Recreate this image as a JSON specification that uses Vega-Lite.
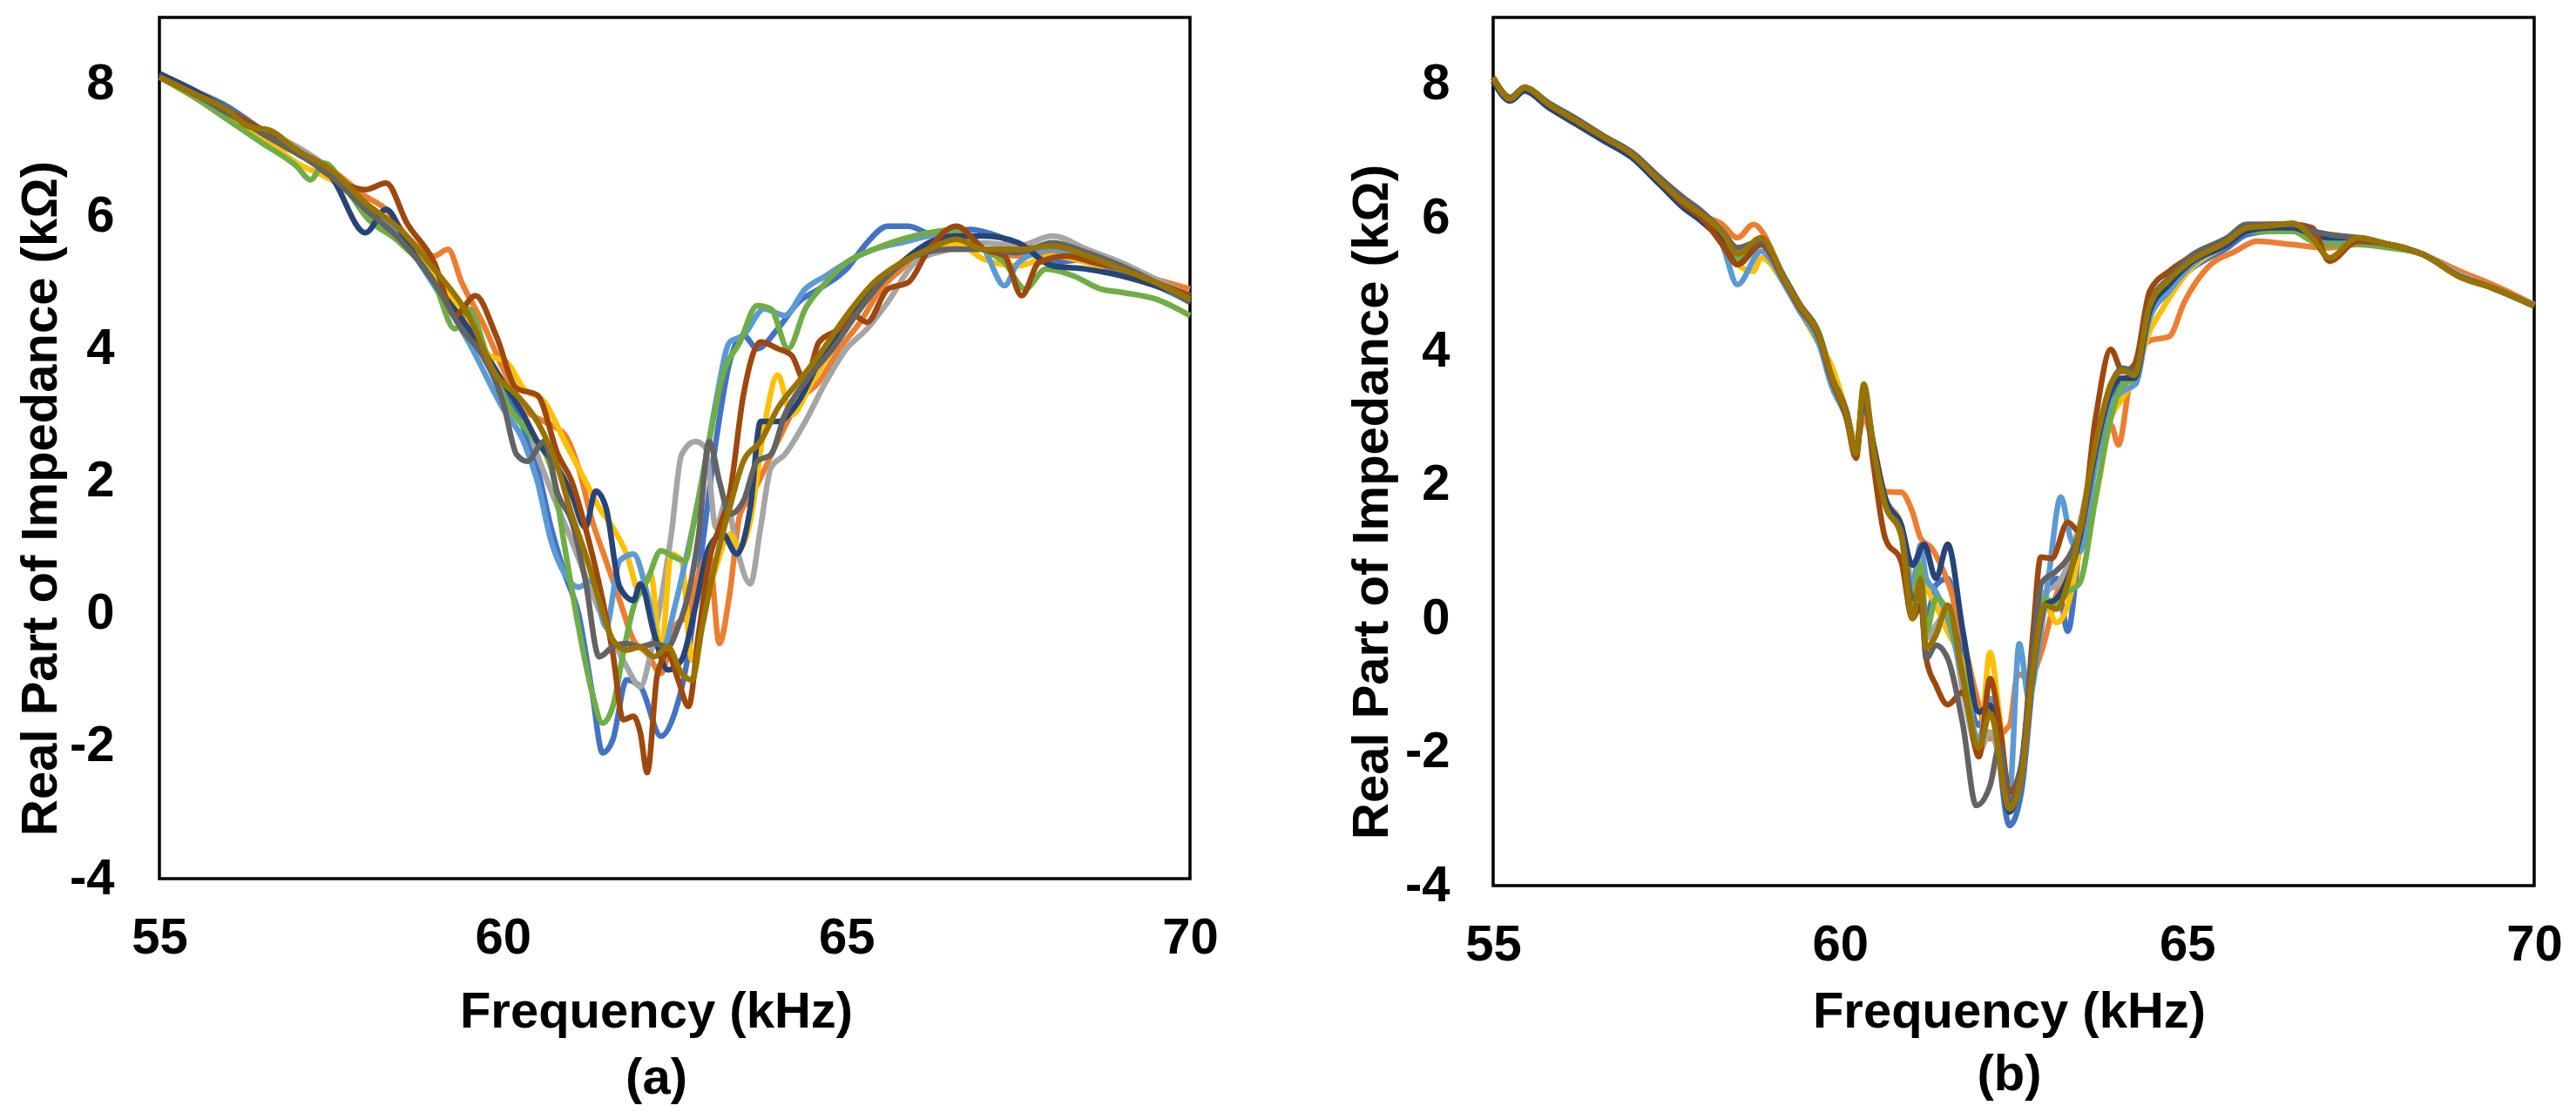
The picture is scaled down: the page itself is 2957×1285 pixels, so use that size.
{
  "$schema": "https://vega.github.io/schema/vega-lite/v6.json",
  "description": "Real part of impedance vs frequency, ten repeated measurements, panels (a) and (b)",
  "background": "white",
  "padding": {"left": 16, "top": 18, "right": 0, "bottom": 0},
  "spacing": 348,
  "bounds": "flush",
  "config": {
    "view": {"stroke": "#000000", "strokeWidth": 3.5},
    "font": "Liberation Sans",
    "axis": {
      "grid": false, "domain": false, "ticks": false, "tickSize": 0,
      "labelFont": "Liberation Sans", "labelFontSize": 58, "labelFontWeight": "bold", "labelColor": "#000000",
      "titleFont": "Liberation Sans", "titleFontSize": 58, "titleFontWeight": "bold", "titleColor": "#000000",
      "labelFlush": false, "labelOverlap": false,
      "labelExpr": "datum.value < 0 ? '-' + abs(datum.value) : '' + datum.value"
    },
    "line": {"strokeWidth": 6.5, "interpolate": "monotone"}
  },
  "datasets": {
    "a": [
      {"s":"s01","f":55,"v":8.15},{"s":"s01","f":55.5,"v":7.9},{"s":"s01","f":56,"v":7.65},{"s":"s01","f":56.5,"v":7.3},{"s":"s01","f":57,"v":7.0},{"s":"s01","f":57.5,"v":6.7},{"s":"s01","f":58,"v":6.15},{"s":"s01","f":58.5,"v":5.7},{"s":"s01","f":59,"v":5.0},{"s":"s01","f":59.3,"v":4.6},{"s":"s01","f":59.5,"v":4.3},{"s":"s01","f":60,"v":3.4},{"s":"s01","f":60.3,"v":2.8},{"s":"s01","f":60.5,"v":2.2},{"s":"s01","f":60.7,"v":1.3},{"s":"s01","f":60.9,"v":0.6},{"s":"s01","f":61.1,"v":0.0},{"s":"s01","f":61.3,"v":-1.2},{"s":"s01","f":61.45,"v":-2.1},{"s":"s01","f":61.6,"v":-1.9},{"s":"s01","f":61.8,"v":-1.0},{"s":"s01","f":62.0,"v":-1.1},{"s":"s01","f":62.3,"v":-1.85},{"s":"s01","f":62.5,"v":-1.5},{"s":"s01","f":62.7,"v":-0.6},{"s":"s01","f":62.9,"v":1.0},{"s":"s01","f":63.1,"v":2.6},{"s":"s01","f":63.3,"v":3.8},{"s":"s01","f":63.5,"v":4.2},{"s":"s01","f":63.7,"v":4.0},{"s":"s01","f":64.0,"v":4.3},{"s":"s01","f":64.3,"v":4.7},{"s":"s01","f":64.6,"v":4.9},{"s":"s01","f":65.0,"v":5.2},{"s":"s01","f":65.3,"v":5.6},{"s":"s01","f":65.6,"v":5.85},{"s":"s01","f":65.9,"v":5.85},{"s":"s01","f":66.3,"v":5.7},{"s":"s01","f":66.8,"v":5.8},{"s":"s01","f":67.2,"v":5.7},{"s":"s01","f":67.6,"v":5.5},{"s":"s01","f":68,"v":5.3},{"s":"s01","f":68.5,"v":5.35},{"s":"s01","f":69,"v":5.25},{"s":"s01","f":69.5,"v":5.0},{"s":"s01","f":70,"v":4.8},

      {"s":"s02","f":55,"v":8.1},{"s":"s02","f":55.5,"v":7.85},{"s":"s02","f":56,"v":7.55},{"s":"s02","f":56.5,"v":7.2},{"s":"s02","f":57,"v":6.95},{"s":"s02","f":57.5,"v":6.7},{"s":"s02","f":58,"v":6.3},{"s":"s02","f":58.3,"v":6.1},{"s":"s02","f":58.6,"v":5.7},{"s":"s02","f":59,"v":5.4},{"s":"s02","f":59.2,"v":5.5},{"s":"s02","f":59.4,"v":5.0},{"s":"s02","f":59.7,"v":4.4},{"s":"s02","f":60,"v":3.7},{"s":"s02","f":60.3,"v":3.1},{"s":"s02","f":60.6,"v":2.9},{"s":"s02","f":60.9,"v":2.7},{"s":"s02","f":61.1,"v":2.2},{"s":"s02","f":61.3,"v":1.4},{"s":"s02","f":61.5,"v":0.8},{"s":"s02","f":61.7,"v":0.2},{"s":"s02","f":61.9,"v":-0.4},{"s":"s02","f":62.1,"v":-0.6},{"s":"s02","f":62.3,"v":-0.9},{"s":"s02","f":62.5,"v":-0.2},{"s":"s02","f":62.7,"v":0.0},{"s":"s02","f":62.85,"v":0.6},{"s":"s02","f":63.0,"v":0.9},{"s":"s02","f":63.15,"v":-0.45},{"s":"s02","f":63.3,"v":0.3},{"s":"s02","f":63.45,"v":1.5},{"s":"s02","f":63.6,"v":1.75},{"s":"s02","f":64.0,"v":2.6},{"s":"s02","f":64.3,"v":3.2},{"s":"s02","f":64.6,"v":3.5},{"s":"s02","f":64.9,"v":4.0},{"s":"s02","f":65.2,"v":4.4},{"s":"s02","f":65.5,"v":4.9},{"s":"s02","f":65.8,"v":5.2},{"s":"s02","f":66.2,"v":5.6},{"s":"s02","f":66.6,"v":5.7},{"s":"s02","f":67,"v":5.5},{"s":"s02","f":67.5,"v":5.4},{"s":"s02","f":68,"v":5.45},{"s":"s02","f":68.5,"v":5.3},{"s":"s02","f":69,"v":5.2},{"s":"s02","f":69.5,"v":5.05},{"s":"s02","f":70,"v":4.9},

      {"s":"s03","f":55,"v":8.1},{"s":"s03","f":55.5,"v":7.9},{"s":"s03","f":56,"v":7.6},{"s":"s03","f":56.5,"v":7.3},{"s":"s03","f":57,"v":7.05},{"s":"s03","f":57.5,"v":6.7},{"s":"s03","f":58,"v":6.2},{"s":"s03","f":58.5,"v":5.7},{"s":"s03","f":59,"v":5.1},{"s":"s03","f":59.5,"v":4.4},{"s":"s03","f":60,"v":3.5},{"s":"s03","f":60.3,"v":3.0},{"s":"s03","f":60.5,"v":2.4},{"s":"s03","f":60.8,"v":1.6},{"s":"s03","f":61,"v":1.1},{"s":"s03","f":61.3,"v":0.3},{"s":"s03","f":61.6,"v":-0.4},{"s":"s03","f":61.8,"v":-0.8},{"s":"s03","f":62.0,"v":-1.1},{"s":"s03","f":62.15,"v":-0.6},{"s":"s03","f":62.3,"v":0.2},{"s":"s03","f":62.45,"v":1.2},{"s":"s03","f":62.6,"v":2.4},{"s":"s03","f":62.8,"v":2.6},{"s":"s03","f":62.95,"v":2.5},{"s":"s03","f":63.1,"v":1.3},{"s":"s03","f":63.25,"v":1.7},{"s":"s03","f":63.4,"v":1.0},{"s":"s03","f":63.6,"v":0.45},{"s":"s03","f":63.75,"v":1.3},{"s":"s03","f":63.9,"v":2.2},{"s":"s03","f":64.1,"v":2.4},{"s":"s03","f":64.4,"v":2.9},{"s":"s03","f":64.7,"v":3.5},{"s":"s03","f":65.0,"v":4.0},{"s":"s03","f":65.3,"v":4.3},{"s":"s03","f":65.6,"v":4.7},{"s":"s03","f":66,"v":5.3},{"s":"s03","f":66.5,"v":5.5},{"s":"s03","f":67,"v":5.6},{"s":"s03","f":67.5,"v":5.55},{"s":"s03","f":68,"v":5.7},{"s":"s03","f":68.5,"v":5.5},{"s":"s03","f":69,"v":5.3},{"s":"s03","f":69.5,"v":5.05},{"s":"s03","f":70,"v":4.8},

      {"s":"s04","f":55,"v":8.1},{"s":"s04","f":55.5,"v":7.8},{"s":"s04","f":56,"v":7.5},{"s":"s04","f":56.5,"v":7.2},{"s":"s04","f":57,"v":6.8},{"s":"s04","f":57.5,"v":6.55},{"s":"s04","f":58,"v":6.15},{"s":"s04","f":58.5,"v":5.75},{"s":"s04","f":59,"v":5.1},{"s":"s04","f":59.5,"v":4.4},{"s":"s04","f":59.8,"v":3.9},{"s":"s04","f":60.05,"v":3.8},{"s":"s04","f":60.3,"v":3.4},{"s":"s04","f":60.6,"v":3.2},{"s":"s04","f":60.9,"v":2.6},{"s":"s04","f":61.2,"v":2.0},{"s":"s04","f":61.4,"v":1.6},{"s":"s04","f":61.6,"v":1.3},{"s":"s04","f":61.8,"v":0.9},{"s":"s04","f":62.0,"v":0.3},{"s":"s04","f":62.15,"v":0.6},{"s":"s04","f":62.3,"v":-0.6},{"s":"s04","f":62.45,"v":0.9},{"s":"s04","f":62.6,"v":0.8},{"s":"s04","f":62.75,"v":-0.7},{"s":"s04","f":62.9,"v":0.0},{"s":"s04","f":63.1,"v":0.7},{"s":"s04","f":63.3,"v":1.2},{"s":"s04","f":63.45,"v":1.0},{"s":"s04","f":63.6,"v":1.4},{"s":"s04","f":63.8,"v":2.8},{"s":"s04","f":64.0,"v":3.6},{"s":"s04","f":64.2,"v":3.0},{"s":"s04","f":64.5,"v":3.5},{"s":"s04","f":64.8,"v":4.0},{"s":"s04","f":65.1,"v":4.5},{"s":"s04","f":65.4,"v":4.9},{"s":"s04","f":65.8,"v":5.3},{"s":"s04","f":66.2,"v":5.5},{"s":"s04","f":66.6,"v":5.6},{"s":"s04","f":67,"v":5.35},{"s":"s04","f":67.5,"v":5.25},{"s":"s04","f":68,"v":5.4},{"s":"s04","f":68.5,"v":5.3},{"s":"s04","f":69,"v":5.1},{"s":"s04","f":69.5,"v":4.95},{"s":"s04","f":70,"v":4.75},

      {"s":"s05","f":55,"v":8.15},{"s":"s05","f":55.5,"v":7.9},{"s":"s05","f":56,"v":7.6},{"s":"s05","f":56.5,"v":7.3},{"s":"s05","f":57,"v":6.95},{"s":"s05","f":57.5,"v":6.65},{"s":"s05","f":58,"v":6.1},{"s":"s05","f":58.5,"v":5.7},{"s":"s05","f":59,"v":4.95},{"s":"s05","f":59.5,"v":4.1},{"s":"s05","f":60,"v":3.1},{"s":"s05","f":60.3,"v":2.6},{"s":"s05","f":60.5,"v":2.0},{"s":"s05","f":60.7,"v":1.1},{"s":"s05","f":60.9,"v":0.6},{"s":"s05","f":61.1,"v":0.4},{"s":"s05","f":61.3,"v":0.5},{"s":"s05","f":61.5,"v":-0.2},{"s":"s05","f":61.7,"v":0.8},{"s":"s05","f":61.9,"v":0.9},{"s":"s05","f":62.1,"v":0.3},{"s":"s05","f":62.3,"v":-0.6},{"s":"s05","f":62.5,"v":0.1},{"s":"s05","f":62.7,"v":1.0},{"s":"s05","f":62.9,"v":2.0},{"s":"s05","f":63.1,"v":3.2},{"s":"s05","f":63.3,"v":4.1},{"s":"s05","f":63.5,"v":4.2},{"s":"s05","f":63.8,"v":4.6},{"s":"s05","f":64.1,"v":4.5},{"s":"s05","f":64.4,"v":4.9},{"s":"s05","f":64.7,"v":5.1},{"s":"s05","f":65.0,"v":5.3},{"s":"s05","f":65.4,"v":5.5},{"s":"s05","f":65.8,"v":5.6},{"s":"s05","f":66.2,"v":5.7},{"s":"s05","f":66.6,"v":5.75},{"s":"s05","f":67.0,"v":5.5},{"s":"s05","f":67.3,"v":4.95},{"s":"s05","f":67.5,"v":5.3},{"s":"s05","f":68,"v":5.5},{"s":"s05","f":68.5,"v":5.35},{"s":"s05","f":69,"v":5.15},{"s":"s05","f":69.5,"v":4.95},{"s":"s05","f":70,"v":4.7},

      {"s":"s06","f":55,"v":8.1},{"s":"s06","f":55.5,"v":7.8},{"s":"s06","f":56,"v":7.45},{"s":"s06","f":56.5,"v":7.1},{"s":"s06","f":57,"v":6.75},{"s":"s06","f":57.2,"v":6.55},{"s":"s06","f":57.4,"v":6.8},{"s":"s06","f":57.7,"v":6.45},{"s":"s06","f":58,"v":6.0},{"s":"s06","f":58.5,"v":5.6},{"s":"s06","f":59,"v":5.0},{"s":"s06","f":59.3,"v":4.3},{"s":"s06","f":59.5,"v":4.6},{"s":"s06","f":59.8,"v":3.8},{"s":"s06","f":60.1,"v":3.1},{"s":"s06","f":60.4,"v":2.7},{"s":"s06","f":60.7,"v":2.2},{"s":"s06","f":60.9,"v":1.0},{"s":"s06","f":61.1,"v":-0.2},{"s":"s06","f":61.3,"v":-1.2},{"s":"s06","f":61.45,"v":-1.65},{"s":"s06","f":61.6,"v":-1.4},{"s":"s06","f":61.75,"v":-0.6},{"s":"s06","f":61.9,"v":0.1},{"s":"s06","f":62.1,"v":0.5},{"s":"s06","f":62.3,"v":0.95},{"s":"s06","f":62.5,"v":0.85},{"s":"s06","f":62.65,"v":0.8},{"s":"s06","f":62.8,"v":1.5},{"s":"s06","f":63.0,"v":2.6},{"s":"s06","f":63.2,"v":3.6},{"s":"s06","f":63.45,"v":4.1},{"s":"s06","f":63.7,"v":4.65},{"s":"s06","f":63.9,"v":4.6},{"s":"s06","f":64.15,"v":4.0},{"s":"s06","f":64.4,"v":4.6},{"s":"s06","f":64.7,"v":5.0},{"s":"s06","f":65.0,"v":5.3},{"s":"s06","f":65.4,"v":5.5},{"s":"s06","f":65.8,"v":5.65},{"s":"s06","f":66.2,"v":5.75},{"s":"s06","f":66.6,"v":5.8},{"s":"s06","f":67.0,"v":5.5},{"s":"s06","f":67.3,"v":5.3},{"s":"s06","f":67.6,"v":4.9},{"s":"s06","f":67.9,"v":5.2},{"s":"s06","f":68.3,"v":5.1},{"s":"s06","f":68.7,"v":4.9},{"s":"s06","f":69,"v":4.85},{"s":"s06","f":69.5,"v":4.75},{"s":"s06","f":70,"v":4.5},

      {"s":"s07","f":55,"v":8.15},{"s":"s07","f":55.5,"v":7.9},{"s":"s07","f":56,"v":7.6},{"s":"s07","f":56.5,"v":7.25},{"s":"s07","f":57,"v":6.95},{"s":"s07","f":57.5,"v":6.6},{"s":"s07","f":58,"v":5.75},{"s":"s07","f":58.3,"v":6.1},{"s":"s07","f":58.6,"v":5.6},{"s":"s07","f":59,"v":5.0},{"s":"s07","f":59.5,"v":4.3},{"s":"s07","f":60,"v":3.5},{"s":"s07","f":60.3,"v":3.0},{"s":"s07","f":60.5,"v":2.6},{"s":"s07","f":60.8,"v":2.2},{"s":"s07","f":61.0,"v":1.8},{"s":"s07","f":61.2,"v":1.3},{"s":"s07","f":61.35,"v":1.85},{"s":"s07","f":61.5,"v":1.6},{"s":"s07","f":61.7,"v":0.4},{"s":"s07","f":61.9,"v":0.2},{"s":"s07","f":62.0,"v":0.45},{"s":"s07","f":62.2,"v":-0.3},{"s":"s07","f":62.4,"v":-0.85},{"s":"s07","f":62.6,"v":-0.7},{"s":"s07","f":62.8,"v":0.1},{"s":"s07","f":63.0,"v":1.0},{"s":"s07","f":63.2,"v":1.2},{"s":"s07","f":63.4,"v":0.9},{"s":"s07","f":63.6,"v":1.6},{"s":"s07","f":63.75,"v":2.9},{"s":"s07","f":64.0,"v":2.9},{"s":"s07","f":64.3,"v":3.2},{"s":"s07","f":64.6,"v":3.8},{"s":"s07","f":65.0,"v":4.4},{"s":"s07","f":65.4,"v":4.9},{"s":"s07","f":65.8,"v":5.3},{"s":"s07","f":66.2,"v":5.6},{"s":"s07","f":66.6,"v":5.7},{"s":"s07","f":67,"v":5.7},{"s":"s07","f":67.5,"v":5.6},{"s":"s07","f":68,"v":5.25},{"s":"s07","f":68.5,"v":5.2},{"s":"s07","f":69,"v":5.1},{"s":"s07","f":69.5,"v":4.95},{"s":"s07","f":70,"v":4.75},

      {"s":"s08","f":55,"v":8.1},{"s":"s08","f":55.5,"v":7.85},{"s":"s08","f":56,"v":7.6},{"s":"s08","f":56.5,"v":7.3},{"s":"s08","f":57,"v":7.0},{"s":"s08","f":57.5,"v":6.6},{"s":"s08","f":58,"v":6.4},{"s":"s08","f":58.3,"v":6.5},{"s":"s08","f":58.6,"v":5.9},{"s":"s08","f":59,"v":5.3},{"s":"s08","f":59.3,"v":4.5},{"s":"s08","f":59.6,"v":4.8},{"s":"s08","f":59.9,"v":4.2},{"s":"s08","f":60.2,"v":3.4},{"s":"s08","f":60.5,"v":3.3},{"s":"s08","f":60.8,"v":2.4},{"s":"s08","f":61.0,"v":2.0},{"s":"s08","f":61.2,"v":1.3},{"s":"s08","f":61.4,"v":0.45},{"s":"s08","f":61.6,"v":-0.6},{"s":"s08","f":61.75,"v":-1.6},{"s":"s08","f":61.9,"v":-1.55},{"s":"s08","f":62.0,"v":-1.8},{"s":"s08","f":62.1,"v":-2.4},{"s":"s08","f":62.25,"v":-0.9},{"s":"s08","f":62.4,"v":-0.6},{"s":"s08","f":62.55,"v":-1.0},{"s":"s08","f":62.7,"v":-1.4},{"s":"s08","f":62.85,"v":-0.3},{"s":"s08","f":63.0,"v":0.8},{"s":"s08","f":63.15,"v":1.3},{"s":"s08","f":63.3,"v":1.8},{"s":"s08","f":63.5,"v":3.3},{"s":"s08","f":63.75,"v":4.1},{"s":"s08","f":64.0,"v":4.0},{"s":"s08","f":64.2,"v":3.9},{"s":"s08","f":64.4,"v":3.5},{"s":"s08","f":64.6,"v":4.1},{"s":"s08","f":64.9,"v":4.3},{"s":"s08","f":65.1,"v":4.5},{"s":"s08","f":65.3,"v":4.4},{"s":"s08","f":65.6,"v":4.9},{"s":"s08","f":65.9,"v":5.0},{"s":"s08","f":66.2,"v":5.5},{"s":"s08","f":66.6,"v":5.85},{"s":"s08","f":67.0,"v":5.5},{"s":"s08","f":67.3,"v":5.4},{"s":"s08","f":67.55,"v":4.8},{"s":"s08","f":67.8,"v":5.3},{"s":"s08","f":68.2,"v":5.4},{"s":"s08","f":68.6,"v":5.3},{"s":"s08","f":69,"v":5.2},{"s":"s08","f":69.5,"v":5.0},{"s":"s08","f":70,"v":4.8},

      {"s":"s09","f":55,"v":8.1},{"s":"s09","f":55.5,"v":7.85},{"s":"s09","f":56,"v":7.55},{"s":"s09","f":56.5,"v":7.25},{"s":"s09","f":57,"v":6.95},{"s":"s09","f":57.5,"v":6.6},{"s":"s09","f":58,"v":6.1},{"s":"s09","f":58.5,"v":5.65},{"s":"s09","f":59,"v":5.0},{"s":"s09","f":59.4,"v":4.3},{"s":"s09","f":59.7,"v":3.9},{"s":"s09","f":60.0,"v":3.2},{"s":"s09","f":60.2,"v":2.4},{"s":"s09","f":60.35,"v":2.3},{"s":"s09","f":60.6,"v":2.6},{"s":"s09","f":60.8,"v":1.8},{"s":"s09","f":61.0,"v":1.4},{"s":"s09","f":61.2,"v":0.5},{"s":"s09","f":61.4,"v":-0.65},{"s":"s09","f":61.6,"v":-0.5},{"s":"s09","f":61.8,"v":-0.45},{"s":"s09","f":62.0,"v":-0.5},{"s":"s09","f":62.2,"v":-0.45},{"s":"s09","f":62.4,"v":-0.5},{"s":"s09","f":62.55,"v":-0.2},{"s":"s09","f":62.7,"v":0.3},{"s":"s09","f":62.85,"v":1.2},{"s":"s09","f":63.0,"v":2.6},{"s":"s09","f":63.15,"v":2.0},{"s":"s09","f":63.3,"v":1.5},{"s":"s09","f":63.5,"v":1.7},{"s":"s09","f":63.7,"v":2.3},{"s":"s09","f":63.9,"v":2.4},{"s":"s09","f":64.1,"v":3.0},{"s":"s09","f":64.4,"v":3.5},{"s":"s09","f":64.8,"v":4.0},{"s":"s09","f":65.2,"v":4.6},{"s":"s09","f":65.6,"v":5.1},{"s":"s09","f":66,"v":5.4},{"s":"s09","f":66.5,"v":5.5},{"s":"s09","f":67,"v":5.5},{"s":"s09","f":67.5,"v":5.45},{"s":"s09","f":68,"v":5.6},{"s":"s09","f":68.5,"v":5.45},{"s":"s09","f":69,"v":5.25},{"s":"s09","f":69.5,"v":5.0},{"s":"s09","f":70,"v":4.7},

      {"s":"s10","f":55,"v":8.1},{"s":"s10","f":55.5,"v":7.85},{"s":"s10","f":56,"v":7.6},{"s":"s10","f":56.3,"v":7.35},{"s":"s10","f":56.6,"v":7.3},{"s":"s10","f":57,"v":7.0},{"s":"s10","f":57.5,"v":6.7},{"s":"s10","f":58,"v":6.2},{"s":"s10","f":58.5,"v":5.8},{"s":"s10","f":59,"v":5.2},{"s":"s10","f":59.5,"v":4.5},{"s":"s10","f":59.9,"v":3.6},{"s":"s10","f":60.2,"v":3.3},{"s":"s10","f":60.5,"v":2.9},{"s":"s10","f":60.8,"v":2.2},{"s":"s10","f":61.0,"v":1.5},{"s":"s10","f":61.2,"v":0.9},{"s":"s10","f":61.4,"v":0.2},{"s":"s10","f":61.6,"v":-0.4},{"s":"s10","f":61.8,"v":-0.55},{"s":"s10","f":62.0,"v":-0.5},{"s":"s10","f":62.2,"v":-0.65},{"s":"s10","f":62.4,"v":-0.5},{"s":"s10","f":62.6,"v":-0.9},{"s":"s10","f":62.75,"v":-1.0},{"s":"s10","f":62.9,"v":-0.2},{"s":"s10","f":63.1,"v":0.8},{"s":"s10","f":63.3,"v":1.6},{"s":"s10","f":63.5,"v":2.3},{"s":"s10","f":63.75,"v":2.6},{"s":"s10","f":64.0,"v":3.1},{"s":"s10","f":64.3,"v":3.5},{"s":"s10","f":64.6,"v":3.9},{"s":"s10","f":65.0,"v":4.5},{"s":"s10","f":65.4,"v":5.0},{"s":"s10","f":65.8,"v":5.3},{"s":"s10","f":66.2,"v":5.5},{"s":"s10","f":66.6,"v":5.65},{"s":"s10","f":67,"v":5.5},{"s":"s10","f":67.5,"v":5.5},{"s":"s10","f":68,"v":5.55},{"s":"s10","f":68.5,"v":5.4},{"s":"s10","f":69,"v":5.2},{"s":"s10","f":69.5,"v":5.0},{"s":"s10","f":70,"v":4.75}
    ],
    "b": [
      {"s":"s01","f":55,"v":8.05},{"s":"s01","f":55.25,"v":7.75},{"s":"s01","f":55.45,"v":7.9},{"s":"s01","f":55.8,"v":7.65},{"s":"s01","f":56.2,"v":7.4},{"s":"s01","f":56.6,"v":7.15},{"s":"s01","f":57,"v":6.9},{"s":"s01","f":57.4,"v":6.5},{"s":"s01","f":57.74,"v":6.2},{"s":"s01","f":58.0,"v":6.0},{"s":"s01","f":58.3,"v":5.7},{"s":"s01","f":58.52,"v":5.35},{"s":"s01","f":58.86,"v":5.6},{"s":"s01","f":59.2,"v":5.0},{"s":"s01","f":59.42,"v":4.6},{"s":"s01","f":59.7,"v":4.15},{"s":"s01","f":59.87,"v":3.7},{"s":"s01","f":60.09,"v":3.1},{"s":"s01","f":60.23,"v":2.6},{"s":"s01","f":60.34,"v":3.2},{"s":"s01","f":60.48,"v":2.5},{"s":"s01","f":60.65,"v":1.8},{"s":"s01","f":60.88,"v":1.4},{"s":"s01","f":61.04,"v":0.3},{"s":"s01","f":61.16,"v":0.7},{"s":"s01","f":61.24,"v":0.0},{"s":"s01","f":61.38,"v":0.5},{"s":"s01","f":61.55,"v":0.6},{"s":"s01","f":61.77,"v":-0.7},{"s":"s01","f":62.0,"v":-1.6},{"s":"s01","f":62.16,"v":-1.2},{"s":"s01","f":62.44,"v":-3.1},{"s":"s01","f":62.61,"v":-2.6},{"s":"s01","f":62.78,"v":-0.9},{"s":"s01","f":62.95,"v":0.3},{"s":"s01","f":63.12,"v":0.6},{"s":"s01","f":63.28,"v":-0.19},{"s":"s01","f":63.45,"v":1.1},{"s":"s01","f":63.68,"v":2.4},{"s":"s01","f":63.9,"v":3.3},{"s":"s01","f":64.07,"v":3.5},{"s":"s01","f":64.24,"v":3.5},{"s":"s01","f":64.46,"v":4.5},{"s":"s01","f":64.74,"v":4.9},{"s":"s01","f":65.02,"v":5.2},{"s":"s01","f":65.58,"v":5.55},{"s":"s01","f":65.86,"v":5.75},{"s":"s01","f":66.2,"v":5.8},{"s":"s01","f":66.52,"v":5.8},{"s":"s01","f":66.8,"v":5.75},{"s":"s01","f":67.05,"v":5.65},{"s":"s01","f":67.45,"v":5.65},{"s":"s01","f":67.9,"v":5.6},{"s":"s01","f":68.4,"v":5.45},{"s":"s01","f":68.93,"v":5.15},{"s":"s01","f":69.4,"v":4.95},{"s":"s01","f":70,"v":4.68},

      {"s":"s02","f":55,"v":8.1},{"s":"s02","f":55.25,"v":7.8},{"s":"s02","f":55.45,"v":7.95},{"s":"s02","f":55.8,"v":7.7},{"s":"s02","f":56.2,"v":7.45},{"s":"s02","f":56.6,"v":7.2},{"s":"s02","f":57,"v":6.95},{"s":"s02","f":57.4,"v":6.6},{"s":"s02","f":57.74,"v":6.25},{"s":"s02","f":58.0,"v":6.05},{"s":"s02","f":58.3,"v":5.9},{"s":"s02","f":58.52,"v":5.7},{"s":"s02","f":58.75,"v":5.9},{"s":"s02","f":59.2,"v":5.1},{"s":"s02","f":59.42,"v":4.7},{"s":"s02","f":59.7,"v":4.2},{"s":"s02","f":59.87,"v":3.7},{"s":"s02","f":60.09,"v":3.1},{"s":"s02","f":60.23,"v":2.6},{"s":"s02","f":60.34,"v":3.0},{"s":"s02","f":60.48,"v":2.6},{"s":"s02","f":60.65,"v":1.9},{"s":"s02","f":60.88,"v":1.89},{"s":"s02","f":61.04,"v":1.6},{"s":"s02","f":61.16,"v":1.2},{"s":"s02","f":61.32,"v":1.05},{"s":"s02","f":61.45,"v":0.8},{"s":"s02","f":61.6,"v":0.4},{"s":"s02","f":61.77,"v":-0.3},{"s":"s02","f":62.0,"v":-1.3},{"s":"s02","f":62.16,"v":-1.8},{"s":"s02","f":62.44,"v":-1.6},{"s":"s02","f":62.56,"v":-0.83},{"s":"s02","f":62.72,"v":-0.9},{"s":"s02","f":62.9,"v":-0.5},{"s":"s02","f":63.1,"v":0.3},{"s":"s02","f":63.28,"v":0.8},{"s":"s02","f":63.45,"v":1.4},{"s":"s02","f":63.68,"v":2.4},{"s":"s02","f":63.9,"v":2.9},{"s":"s02","f":64.01,"v":2.6},{"s":"s02","f":64.18,"v":3.58},{"s":"s02","f":64.46,"v":4.16},{"s":"s02","f":64.74,"v":4.22},{"s":"s02","f":64.96,"v":4.74},{"s":"s02","f":65.3,"v":5.26},{"s":"s02","f":65.7,"v":5.5},{"s":"s02","f":66.0,"v":5.65},{"s":"s02","f":66.5,"v":5.6},{"s":"s02","f":67.0,"v":5.55},{"s":"s02","f":67.45,"v":5.6},{"s":"s02","f":67.9,"v":5.6},{"s":"s02","f":68.4,"v":5.45},{"s":"s02","f":68.93,"v":5.2},{"s":"s02","f":69.4,"v":5.0},{"s":"s02","f":70,"v":4.7},

      {"s":"s03","f":55,"v":8.1},{"s":"s03","f":55.25,"v":7.8},{"s":"s03","f":55.45,"v":7.95},{"s":"s03","f":55.8,"v":7.72},{"s":"s03","f":56.2,"v":7.48},{"s":"s03","f":56.6,"v":7.22},{"s":"s03","f":57,"v":6.98},{"s":"s03","f":57.4,"v":6.6},{"s":"s03","f":57.74,"v":6.3},{"s":"s03","f":58.0,"v":6.1},{"s":"s03","f":58.3,"v":5.8},{"s":"s03","f":58.52,"v":5.55},{"s":"s03","f":58.86,"v":5.65},{"s":"s03","f":59.2,"v":5.1},{"s":"s03","f":59.42,"v":4.7},{"s":"s03","f":59.7,"v":4.25},{"s":"s03","f":59.87,"v":3.7},{"s":"s03","f":60.09,"v":3.1},{"s":"s03","f":60.23,"v":2.6},{"s":"s03","f":60.34,"v":3.3},{"s":"s03","f":60.48,"v":2.6},{"s":"s03","f":60.65,"v":1.75},{"s":"s03","f":60.88,"v":1.3},{"s":"s03","f":61.04,"v":0.4},{"s":"s03","f":61.16,"v":0.5},{"s":"s03","f":61.24,"v":-0.3},{"s":"s03","f":61.38,"v":-0.1},{"s":"s03","f":61.55,"v":0.1},{"s":"s03","f":61.77,"v":-1.1},{"s":"s03","f":62.0,"v":-2.0},{"s":"s03","f":62.16,"v":-1.7},{"s":"s03","f":62.44,"v":-2.6},{"s":"s03","f":62.61,"v":-2.3},{"s":"s03","f":62.78,"v":-0.5},{"s":"s03","f":62.95,"v":0.4},{"s":"s03","f":63.12,"v":0.5},{"s":"s03","f":63.28,"v":0.8},{"s":"s03","f":63.45,"v":1.4},{"s":"s03","f":63.68,"v":2.6},{"s":"s03","f":63.9,"v":3.5},{"s":"s03","f":64.07,"v":3.7},{"s":"s03","f":64.24,"v":3.7},{"s":"s03","f":64.46,"v":4.7},{"s":"s03","f":64.74,"v":5.1},{"s":"s03","f":65.02,"v":5.4},{"s":"s03","f":65.58,"v":5.7},{"s":"s03","f":65.86,"v":5.9},{"s":"s03","f":66.2,"v":5.9},{"s":"s03","f":66.52,"v":5.9},{"s":"s03","f":66.8,"v":5.8},{"s":"s03","f":67.05,"v":5.75},{"s":"s03","f":67.45,"v":5.7},{"s":"s03","f":67.9,"v":5.6},{"s":"s03","f":68.4,"v":5.45},{"s":"s03","f":68.93,"v":5.15},{"s":"s03","f":69.4,"v":4.95},{"s":"s03","f":70,"v":4.7},

      {"s":"s04","f":55,"v":8.1},{"s":"s04","f":55.25,"v":7.8},{"s":"s04","f":55.45,"v":7.95},{"s":"s04","f":55.8,"v":7.7},{"s":"s04","f":56.2,"v":7.45},{"s":"s04","f":56.6,"v":7.2},{"s":"s04","f":57,"v":6.95},{"s":"s04","f":57.4,"v":6.55},{"s":"s04","f":57.74,"v":6.2},{"s":"s04","f":58.0,"v":6.0},{"s":"s04","f":58.3,"v":5.7},{"s":"s04","f":58.52,"v":5.3},{"s":"s04","f":58.75,"v":5.2},{"s":"s04","f":58.86,"v":5.4},{"s":"s04","f":59.2,"v":5.0},{"s":"s04","f":59.42,"v":4.6},{"s":"s04","f":59.7,"v":4.1},{"s":"s04","f":59.87,"v":3.8},{"s":"s04","f":60.09,"v":3.1},{"s":"s04","f":60.23,"v":2.6},{"s":"s04","f":60.34,"v":3.3},{"s":"s04","f":60.48,"v":2.6},{"s":"s04","f":60.65,"v":1.8},{"s":"s04","f":60.88,"v":1.4},{"s":"s04","f":61.04,"v":0.6},{"s":"s04","f":61.16,"v":0.9},{"s":"s04","f":61.24,"v":0.5},{"s":"s04","f":61.38,"v":0.2},{"s":"s04","f":61.55,"v":-0.2},{"s":"s04","f":61.77,"v":-0.7},{"s":"s04","f":62.0,"v":-2.0},{"s":"s04","f":62.16,"v":-0.51},{"s":"s04","f":62.3,"v":-1.5},{"s":"s04","f":62.44,"v":-2.7},{"s":"s04","f":62.61,"v":-2.3},{"s":"s04","f":62.78,"v":-0.7},{"s":"s04","f":62.95,"v":0.2},{"s":"s04","f":63.12,"v":-0.06},{"s":"s04","f":63.28,"v":0.2},{"s":"s04","f":63.45,"v":1.0},{"s":"s04","f":63.68,"v":1.8},{"s":"s04","f":63.9,"v":2.99},{"s":"s04","f":64.07,"v":3.3},{"s":"s04","f":64.24,"v":3.6},{"s":"s04","f":64.46,"v":4.3},{"s":"s04","f":64.63,"v":4.61},{"s":"s04","f":65.02,"v":5.2},{"s":"s04","f":65.58,"v":5.6},{"s":"s04","f":65.86,"v":5.8},{"s":"s04","f":66.2,"v":5.85},{"s":"s04","f":66.52,"v":5.85},{"s":"s04","f":66.8,"v":5.75},{"s":"s04","f":67.05,"v":5.7},{"s":"s04","f":67.45,"v":5.7},{"s":"s04","f":67.9,"v":5.6},{"s":"s04","f":68.4,"v":5.45},{"s":"s04","f":68.93,"v":5.12},{"s":"s04","f":69.4,"v":4.95},{"s":"s04","f":70,"v":4.68},

      {"s":"s05","f":55,"v":8.1},{"s":"s05","f":55.25,"v":7.78},{"s":"s05","f":55.45,"v":7.9},{"s":"s05","f":55.8,"v":7.68},{"s":"s05","f":56.2,"v":7.42},{"s":"s05","f":56.6,"v":7.18},{"s":"s05","f":57,"v":6.92},{"s":"s05","f":57.4,"v":6.5},{"s":"s05","f":57.74,"v":6.2},{"s":"s05","f":58.0,"v":5.95},{"s":"s05","f":58.3,"v":5.6},{"s":"s05","f":58.52,"v":5.0},{"s":"s05","f":58.86,"v":5.5},{"s":"s05","f":59.2,"v":5.0},{"s":"s05","f":59.42,"v":4.6},{"s":"s05","f":59.7,"v":4.1},{"s":"s05","f":59.87,"v":3.5},{"s":"s05","f":60.09,"v":3.0},{"s":"s05","f":60.23,"v":2.5},{"s":"s05","f":60.34,"v":3.3},{"s":"s05","f":60.48,"v":2.5},{"s":"s05","f":60.65,"v":1.8},{"s":"s05","f":60.88,"v":1.3},{"s":"s05","f":61.04,"v":0.5},{"s":"s05","f":61.16,"v":1.1},{"s":"s05","f":61.24,"v":0.6},{"s":"s05","f":61.38,"v":0.4},{"s":"s05","f":61.55,"v":0.0},{"s":"s05","f":61.77,"v":-0.9},{"s":"s05","f":62.0,"v":-1.8},{"s":"s05","f":62.16,"v":-1.2},{"s":"s05","f":62.3,"v":-2.0},{"s":"s05","f":62.44,"v":-2.6},{"s":"s05","f":62.58,"v":-0.38},{"s":"s05","f":62.72,"v":-1.2},{"s":"s05","f":62.85,"v":-0.5},{"s":"s05","f":63.0,"v":0.6},{"s":"s05","f":63.18,"v":1.82},{"s":"s05","f":63.32,"v":1.2},{"s":"s05","f":63.45,"v":1.0},{"s":"s05","f":63.68,"v":2.3},{"s":"s05","f":63.9,"v":3.2},{"s":"s05","f":64.07,"v":3.4},{"s":"s05","f":64.24,"v":3.5},{"s":"s05","f":64.46,"v":4.5},{"s":"s05","f":64.74,"v":4.9},{"s":"s05","f":65.02,"v":5.25},{"s":"s05","f":65.58,"v":5.6},{"s":"s05","f":65.86,"v":5.8},{"s":"s05","f":66.2,"v":5.85},{"s":"s05","f":66.52,"v":5.85},{"s":"s05","f":66.8,"v":5.7},{"s":"s05","f":67.05,"v":5.65},{"s":"s05","f":67.45,"v":5.65},{"s":"s05","f":67.9,"v":5.6},{"s":"s05","f":68.4,"v":5.45},{"s":"s05","f":68.93,"v":5.12},{"s":"s05","f":69.4,"v":4.95},{"s":"s05","f":70,"v":4.68},

      {"s":"s06","f":55,"v":8.1},{"s":"s06","f":55.25,"v":7.8},{"s":"s06","f":55.45,"v":7.95},{"s":"s06","f":55.8,"v":7.7},{"s":"s06","f":56.2,"v":7.45},{"s":"s06","f":56.6,"v":7.2},{"s":"s06","f":57,"v":6.95},{"s":"s06","f":57.4,"v":6.55},{"s":"s06","f":57.74,"v":6.25},{"s":"s06","f":58.0,"v":6.05},{"s":"s06","f":58.3,"v":5.75},{"s":"s06","f":58.52,"v":5.4},{"s":"s06","f":58.86,"v":5.65},{"s":"s06","f":59.2,"v":5.1},{"s":"s06","f":59.42,"v":4.7},{"s":"s06","f":59.7,"v":4.25},{"s":"s06","f":59.87,"v":3.6},{"s":"s06","f":60.09,"v":3.1},{"s":"s06","f":60.23,"v":2.5},{"s":"s06","f":60.34,"v":3.4},{"s":"s06","f":60.48,"v":2.6},{"s":"s06","f":60.65,"v":1.7},{"s":"s06","f":60.88,"v":1.3},{"s":"s06","f":61.04,"v":0.2},{"s":"s06","f":61.16,"v":0.8},{"s":"s06","f":61.24,"v":-0.2},{"s":"s06","f":61.38,"v":0.3},{"s":"s06","f":61.55,"v":0.1},{"s":"s06","f":61.77,"v":-0.8},{"s":"s06","f":62.0,"v":-1.9},{"s":"s06","f":62.16,"v":-1.4},{"s":"s06","f":62.44,"v":-2.7},{"s":"s06","f":62.61,"v":-2.3},{"s":"s06","f":62.78,"v":-0.6},{"s":"s06","f":62.95,"v":0.3},{"s":"s06","f":63.12,"v":0.2},{"s":"s06","f":63.28,"v":0.4},{"s":"s06","f":63.45,"v":0.53},{"s":"s06","f":63.68,"v":1.8},{"s":"s06","f":63.9,"v":3.0},{"s":"s06","f":64.07,"v":3.5},{"s":"s06","f":64.24,"v":3.6},{"s":"s06","f":64.46,"v":4.6},{"s":"s06","f":64.74,"v":5.0},{"s":"s06","f":65.02,"v":5.3},{"s":"s06","f":65.58,"v":5.6},{"s":"s06","f":65.86,"v":5.8},{"s":"s06","f":66.2,"v":5.8},{"s":"s06","f":66.52,"v":5.8},{"s":"s06","f":66.8,"v":5.65},{"s":"s06","f":67.05,"v":5.6},{"s":"s06","f":67.45,"v":5.6},{"s":"s06","f":67.9,"v":5.55},{"s":"s06","f":68.4,"v":5.45},{"s":"s06","f":68.93,"v":5.12},{"s":"s06","f":69.4,"v":4.95},{"s":"s06","f":70,"v":4.68},

      {"s":"s07","f":55,"v":8.05},{"s":"s07","f":55.25,"v":7.75},{"s":"s07","f":55.45,"v":7.9},{"s":"s07","f":55.8,"v":7.65},{"s":"s07","f":56.2,"v":7.4},{"s":"s07","f":56.6,"v":7.15},{"s":"s07","f":57,"v":6.9},{"s":"s07","f":57.4,"v":6.5},{"s":"s07","f":57.74,"v":6.15},{"s":"s07","f":58.0,"v":5.95},{"s":"s07","f":58.3,"v":5.65},{"s":"s07","f":58.52,"v":5.3},{"s":"s07","f":58.86,"v":5.6},{"s":"s07","f":59.2,"v":5.05},{"s":"s07","f":59.42,"v":4.65},{"s":"s07","f":59.7,"v":4.2},{"s":"s07","f":59.87,"v":3.6},{"s":"s07","f":60.09,"v":3.05},{"s":"s07","f":60.23,"v":2.5},{"s":"s07","f":60.34,"v":3.3},{"s":"s07","f":60.48,"v":2.6},{"s":"s07","f":60.65,"v":1.8},{"s":"s07","f":60.88,"v":1.4},{"s":"s07","f":61.04,"v":0.8},{"s":"s07","f":61.21,"v":1.11},{"s":"s07","f":61.38,"v":0.6},{"s":"s07","f":61.55,"v":1.11},{"s":"s07","f":61.77,"v":-0.2},{"s":"s07","f":62.0,"v":-1.4},{"s":"s07","f":62.16,"v":-1.3},{"s":"s07","f":62.44,"v":-2.9},{"s":"s07","f":62.61,"v":-2.3},{"s":"s07","f":62.78,"v":-0.8},{"s":"s07","f":62.95,"v":0.2},{"s":"s07","f":63.12,"v":0.3},{"s":"s07","f":63.28,"v":0.6},{"s":"s07","f":63.45,"v":1.2},{"s":"s07","f":63.68,"v":2.5},{"s":"s07","f":63.9,"v":3.4},{"s":"s07","f":64.07,"v":3.6},{"s":"s07","f":64.24,"v":3.6},{"s":"s07","f":64.46,"v":4.6},{"s":"s07","f":64.74,"v":5.0},{"s":"s07","f":65.02,"v":5.3},{"s":"s07","f":65.58,"v":5.6},{"s":"s07","f":65.86,"v":5.8},{"s":"s07","f":66.2,"v":5.85},{"s":"s07","f":66.52,"v":5.85},{"s":"s07","f":66.8,"v":5.75},{"s":"s07","f":67.05,"v":5.7},{"s":"s07","f":67.45,"v":5.7},{"s":"s07","f":67.9,"v":5.6},{"s":"s07","f":68.4,"v":5.45},{"s":"s07","f":68.93,"v":5.12},{"s":"s07","f":69.4,"v":4.95},{"s":"s07","f":70,"v":4.68},

      {"s":"s08","f":55,"v":8.1},{"s":"s08","f":55.25,"v":7.78},{"s":"s08","f":55.45,"v":7.95},{"s":"s08","f":55.8,"v":7.7},{"s":"s08","f":56.2,"v":7.45},{"s":"s08","f":56.6,"v":7.2},{"s":"s08","f":57,"v":6.95},{"s":"s08","f":57.4,"v":6.55},{"s":"s08","f":57.74,"v":6.2},{"s":"s08","f":58.0,"v":6.0},{"s":"s08","f":58.3,"v":5.6},{"s":"s08","f":58.52,"v":5.3},{"s":"s08","f":58.86,"v":5.6},{"s":"s08","f":59.2,"v":5.05},{"s":"s08","f":59.42,"v":4.65},{"s":"s08","f":59.7,"v":4.2},{"s":"s08","f":59.87,"v":3.6},{"s":"s08","f":60.09,"v":3.0},{"s":"s08","f":60.23,"v":2.4},{"s":"s08","f":60.34,"v":3.4},{"s":"s08","f":60.48,"v":2.3},{"s":"s08","f":60.65,"v":1.2},{"s":"s08","f":60.88,"v":0.85},{"s":"s08","f":61.04,"v":0.0},{"s":"s08","f":61.16,"v":0.2},{"s":"s08","f":61.24,"v":-0.6},{"s":"s08","f":61.38,"v":-1.0},{"s":"s08","f":61.55,"v":-1.29},{"s":"s08","f":61.77,"v":-1.1},{"s":"s08","f":62.0,"v":-2.07},{"s":"s08","f":62.16,"v":-0.9},{"s":"s08","f":62.3,"v":-1.6},{"s":"s08","f":62.44,"v":-2.6},{"s":"s08","f":62.61,"v":-2.2},{"s":"s08","f":62.78,"v":-0.2},{"s":"s08","f":62.89,"v":0.92},{"s":"s08","f":63.05,"v":0.9},{"s":"s08","f":63.28,"v":1.44},{"s":"s08","f":63.45,"v":1.3},{"s":"s08","f":63.68,"v":3.0},{"s":"s08","f":63.9,"v":4.03},{"s":"s08","f":64.07,"v":3.7},{"s":"s08","f":64.24,"v":3.8},{"s":"s08","f":64.46,"v":4.9},{"s":"s08","f":64.74,"v":5.2},{"s":"s08","f":65.02,"v":5.4},{"s":"s08","f":65.58,"v":5.7},{"s":"s08","f":65.86,"v":5.85},{"s":"s08","f":66.2,"v":5.9},{"s":"s08","f":66.52,"v":5.9},{"s":"s08","f":66.8,"v":5.85},{"s":"s08","f":67.05,"v":5.35},{"s":"s08","f":67.45,"v":5.65},{"s":"s08","f":67.9,"v":5.6},{"s":"s08","f":68.4,"v":5.45},{"s":"s08","f":68.93,"v":5.12},{"s":"s08","f":69.4,"v":4.95},{"s":"s08","f":70,"v":4.68},

      {"s":"s09","f":55,"v":8.1},{"s":"s09","f":55.25,"v":7.8},{"s":"s09","f":55.45,"v":7.95},{"s":"s09","f":55.8,"v":7.72},{"s":"s09","f":56.2,"v":7.48},{"s":"s09","f":56.6,"v":7.22},{"s":"s09","f":57,"v":6.98},{"s":"s09","f":57.4,"v":6.6},{"s":"s09","f":57.74,"v":6.3},{"s":"s09","f":58.0,"v":6.1},{"s":"s09","f":58.3,"v":5.8},{"s":"s09","f":58.52,"v":5.55},{"s":"s09","f":58.86,"v":5.65},{"s":"s09","f":59.2,"v":5.1},{"s":"s09","f":59.42,"v":4.7},{"s":"s09","f":59.7,"v":4.25},{"s":"s09","f":59.87,"v":3.65},{"s":"s09","f":60.09,"v":3.1},{"s":"s09","f":60.23,"v":2.5},{"s":"s09","f":60.34,"v":3.4},{"s":"s09","f":60.48,"v":2.5},{"s":"s09","f":60.65,"v":1.7},{"s":"s09","f":60.88,"v":1.3},{"s":"s09","f":61.04,"v":0.3},{"s":"s09","f":61.16,"v":0.4},{"s":"s09","f":61.24,"v":-0.6},{"s":"s09","f":61.38,"v":-0.4},{"s":"s09","f":61.55,"v":-0.6},{"s":"s09","f":61.77,"v":-1.6},{"s":"s09","f":61.96,"v":-2.8},{"s":"s09","f":62.16,"v":-2.5},{"s":"s09","f":62.3,"v":-1.9},{"s":"s09","f":62.44,"v":-2.75},{"s":"s09","f":62.61,"v":-2.2},{"s":"s09","f":62.78,"v":-0.5},{"s":"s09","f":62.9,"v":0.53},{"s":"s09","f":63.1,"v":0.7},{"s":"s09","f":63.28,"v":0.9},{"s":"s09","f":63.45,"v":1.3},{"s":"s09","f":63.68,"v":2.6},{"s":"s09","f":63.9,"v":3.5},{"s":"s09","f":64.07,"v":3.75},{"s":"s09","f":64.24,"v":3.7},{"s":"s09","f":64.46,"v":4.7},{"s":"s09","f":64.74,"v":5.1},{"s":"s09","f":65.02,"v":5.4},{"s":"s09","f":65.58,"v":5.7},{"s":"s09","f":65.86,"v":5.9},{"s":"s09","f":66.2,"v":5.9},{"s":"s09","f":66.52,"v":5.9},{"s":"s09","f":66.8,"v":5.8},{"s":"s09","f":67.05,"v":5.75},{"s":"s09","f":67.45,"v":5.7},{"s":"s09","f":67.9,"v":5.6},{"s":"s09","f":68.4,"v":5.45},{"s":"s09","f":68.93,"v":5.12},{"s":"s09","f":69.4,"v":4.95},{"s":"s09","f":70,"v":4.68},

      {"s":"s10","f":55,"v":8.1},{"s":"s10","f":55.25,"v":7.78},{"s":"s10","f":55.45,"v":7.95},{"s":"s10","f":55.8,"v":7.7},{"s":"s10","f":56.2,"v":7.45},{"s":"s10","f":56.6,"v":7.2},{"s":"s10","f":57,"v":6.95},{"s":"s10","f":57.4,"v":6.55},{"s":"s10","f":57.74,"v":6.24},{"s":"s10","f":58.0,"v":6.05},{"s":"s10","f":58.3,"v":5.78},{"s":"s10","f":58.52,"v":5.46},{"s":"s10","f":58.86,"v":5.7},{"s":"s10","f":59.2,"v":5.07},{"s":"s10","f":59.42,"v":4.68},{"s":"s10","f":59.7,"v":4.23},{"s":"s10","f":59.87,"v":3.64},{"s":"s10","f":60.09,"v":3.06},{"s":"s10","f":60.23,"v":2.47},{"s":"s10","f":60.34,"v":3.51},{"s":"s10","f":60.48,"v":2.54},{"s":"s10","f":60.65,"v":1.7},{"s":"s10","f":60.88,"v":1.24},{"s":"s10","f":61.04,"v":0.0},{"s":"s10","f":61.16,"v":0.59},{"s":"s10","f":61.24,"v":-0.44},{"s":"s10","f":61.38,"v":-0.25},{"s":"s10","f":61.55,"v":0.2},{"s":"s10","f":61.77,"v":-0.9},{"s":"s10","f":62.0,"v":-1.94},{"s":"s10","f":62.16,"v":-1.42},{"s":"s10","f":62.44,"v":-2.85},{"s":"s10","f":62.61,"v":-2.39},{"s":"s10","f":62.78,"v":-0.77},{"s":"s10","f":62.95,"v":0.2},{"s":"s10","f":63.12,"v":0.14},{"s":"s10","f":63.28,"v":0.53},{"s":"s10","f":63.45,"v":1.31},{"s":"s10","f":63.68,"v":2.6},{"s":"s10","f":63.9,"v":3.51},{"s":"s10","f":64.07,"v":3.71},{"s":"s10","f":64.24,"v":3.64},{"s":"s10","f":64.46,"v":4.68},{"s":"s10","f":64.74,"v":5.07},{"s":"s10","f":65.02,"v":5.33},{"s":"s10","f":65.58,"v":5.65},{"s":"s10","f":65.86,"v":5.85},{"s":"s10","f":66.2,"v":5.88},{"s":"s10","f":66.52,"v":5.92},{"s":"s10","f":66.8,"v":5.7},{"s":"s10","f":67.05,"v":5.4},{"s":"s10","f":67.45,"v":5.7},{"s":"s10","f":67.9,"v":5.6},{"s":"s10","f":68.4,"v":5.45},{"s":"s10","f":68.93,"v":5.11},{"s":"s10","f":69.4,"v":4.95},{"s":"s10","f":70,"v":4.68}
    ]
  },
  "hconcat": [
    {
      "data": {"name": "a"},
      "width": 1183,
      "height": 989,
      "mark": {"type": "line"},
      "encoding": {
        "x": {
          "field": "f", "type": "quantitative",
          "scale": {"domain": [55, 70], "nice": false, "zero": false},
          "axis": {
            "values": [55, 60, 65, 70], "labelPadding": 39,
            "title": ["Frequency (kHz)", "(a)"], "titleLineHeight": 76,
            "titleX": 570, "titleY": 170, "titleBaseline": "alphabetic", "titleAlign": "center"
          }
        },
        "y": {
          "field": "v", "type": "quantitative",
          "scale": {"domain": [-4, 9], "nice": false, "zero": false},
          "axis": {
            "values": [-4, -2, 0, 2, 4, 6, 8], "labelPadding": 52,
            "title": "Real Part of Impedance (kΩ)", "titleAngle": 270,
            "titleX": -119, "titleY": 552, "titleBaseline": "alphabetic", "titleAlign": "center"
          }
        },
        "color": {
          "field": "s", "type": "nominal", "legend": null,
          "scale": {
            "domain": ["s01","s02","s03","s04","s05","s06","s07","s08","s09","s10"],
            "range": ["#4472C4","#ED7D31","#A5A5A5","#FFC000","#5B9BD5","#70AD47","#264478","#9E480E","#636363","#997300"]
          }
        }
      }
    },
    {
      "data": {"name": "b"},
      "width": 1195,
      "height": 997,
      "mark": {"type": "line"},
      "encoding": {
        "x": {
          "field": "f", "type": "quantitative",
          "scale": {"domain": [55, 70], "nice": false, "zero": false},
          "axis": {
            "values": [55, 60, 65, 70], "labelPadding": 39,
            "title": ["Frequency (kHz)", "(b)"], "titleLineHeight": 72,
            "titleX": 592, "titleY": 162, "titleBaseline": "alphabetic", "titleAlign": "center"
          }
        },
        "y": {
          "field": "v", "type": "quantitative",
          "scale": {"domain": [-4, 9], "nice": false, "zero": false},
          "axis": {
            "values": [-4, -2, 0, 2, 4, 6, 8], "labelPadding": 50,
            "title": "Real Part of Impedance (kΩ)", "titleAngle": 270,
            "titleX": -122, "titleY": 556, "titleBaseline": "alphabetic", "titleAlign": "center"
          }
        },
        "color": {
          "field": "s", "type": "nominal", "legend": null,
          "scale": {
            "domain": ["s01","s02","s03","s04","s05","s06","s07","s08","s09","s10"],
            "range": ["#4472C4","#ED7D31","#A5A5A5","#FFC000","#5B9BD5","#70AD47","#264478","#9E480E","#636363","#997300"]
          }
        }
      }
    }
  ]
}
